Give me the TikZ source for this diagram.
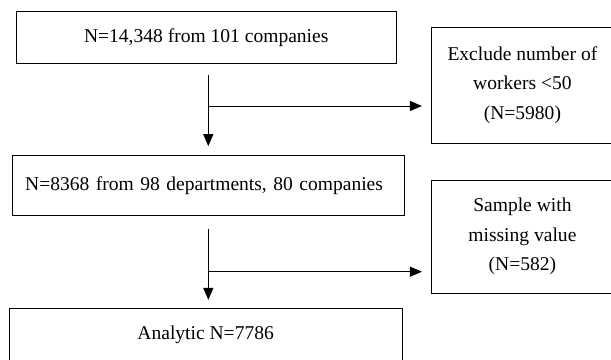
\documentclass[tikz,border=0pt]{standalone}
\usepackage{fontspec}
\setmainfont{Liberation Serif}
\usetikzlibrary{arrows.meta}

\begin{document}
\begin{tikzpicture}[
    stage/.style={rectangle, draw=black, line width=0.7pt, minimum width=9.49cm, minimum height=1.29cm, align=center, font=\fontsize{13.9pt}{20.8pt}\selectfont},
    side/.style={stage, minimum width=4.54cm, minimum height=2.9cm},
    arrow/.style={-{Triangle[length=0.3cm, width=0.25cm]}, line width=0.7pt}
]
\useasboundingbox (0,0) rectangle (15.275,8.975);

% Main flow
\node[stage] at (5.156,8.0375) (total) {N=14,348 from 101 companies};
\node[stage, minimum width=9.79cm, minimum height=1.51cm, text width=9.15cm, inner xsep=0.32cm, align=left] at (5.205,4.3425) (eligible) {N=8368 from 98 departments, 80 companies};
\node[stage, anchor=north, minimum width=9.83cm, minimum height=0cm, text height=0.68cm, text depth=0.6cm, inner ysep=0.1cm] at (5.141,1.2675) (analytic) {Analytic N=7786};

% Exclusions
\node[side] at (13.06,6.85) (exclude) {Exclude number of\\workers <50\\(N=5980)};
\node[side, minimum height=2.825cm] at (13.06,3.0625) (missing) {Sample with\\missing value\\(N=582)};

% Split points
\coordinate (split1) at (5.2075,6.325);
\coordinate (split2) at (5.2075,2.1825);

% Arrows
\draw[arrow, shorten <=0.29cm, shorten >=0.21cm] (split1 |- total.south) -- (split1 |- eligible.north);
\draw[arrow, shorten >=0.23cm] (split1) -- (split1 -| exclude.west);
\draw[arrow, shorten <=0.325cm, shorten >=0.21cm] (split2 |- eligible.south) -- (split2 |- analytic.north);
\draw[arrow, shorten >=0.23cm] (split2) -- (split2 -| missing.west);

\end{tikzpicture}
\end{document}
